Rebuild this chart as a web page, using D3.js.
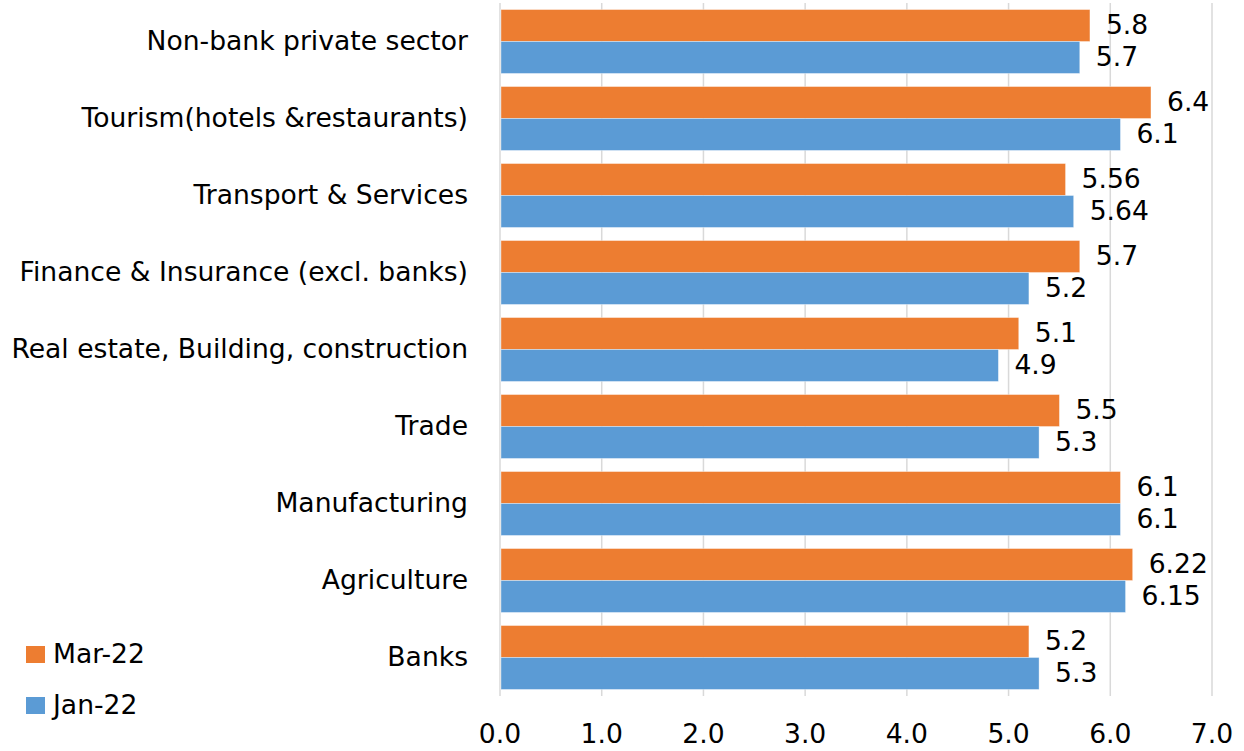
<!DOCTYPE html>
<html>
<head>
<meta charset="utf-8">
<script src="https://cdn.jsdelivr.net/npm/d3@7"></script>
<style>
  html, body { margin: 0; padding: 0; background: #fff; }
  svg { display: block; font-family: "DejaVu Sans", sans-serif; }
</style>
</head>
<body>
<svg id="chart"></svg>
<script>
// Data
const categories = [
  "Non-bank private sector",
  "Tourism(hotels &restaurants)",
  "Transport & Services",
  "Finance & Insurance (excl. banks)",
  "Real estate, Building, construction",
  "Trade",
  "Manufacturing",
  "Agriculture",
  "Banks"
];
const mar22 = [5.8, 6.4, 5.56, 5.7, 5.1, 5.5, 6.1, 6.22, 5.2];
const jan22 = [5.7, 6.1, 5.64, 5.2, 4.9, 5.3, 6.1, 6.15, 5.3];
const seriesNames = ["Mar-22", "Jan-22"];
const xTicks = [0, 1, 2, 3, 4, 5, 6, 7];

const W = 1244, H = 751;
const plot = { left: 500, right: 1212, top: 3, bottom: 696 };
const fontSize = 26.6;
const colors = { "Mar-22": "#ED7D31", "Jan-22": "#5B9BD5" };

const svg = d3.select("#chart").attr("width", W).attr("height", H);

const x = d3.scaleLinear().domain([0, 7]).range([plot.left, plot.right]);
const y = d3.scaleBand().domain(categories).range([plot.top, plot.bottom]).paddingInner(0.17).paddingOuter(0.085);
const ySub = d3.scaleBand().domain(seriesNames).range([0, y.bandwidth()]);

const rows = categories.map((c, i) => ({ cat: c, values: [
  { s: "Mar-22", v: mar22[i] },
  { s: "Jan-22", v: jan22[i] }
]}));

// gridlines
svg.append("g").selectAll("line").data(xTicks).join("line")
  .attr("x1", d => x(d)).attr("x2", d => x(d))
  .attr("y1", plot.top).attr("y2", plot.bottom)
  .attr("stroke", "#d9d9d9").attr("stroke-width", 1.5);

// bars
const gRow = svg.append("g").selectAll("g").data(rows).join("g")
  .attr("transform", d => `translate(0,${y(d.cat)})`);

gRow.selectAll("rect").data(d => d.values).join("rect")
  .attr("x", x(0) + 1)
  .attr("y", d => ySub(d.s))
  .attr("width", d => x(d.v) - x(0) - 1)
  .attr("height", ySub.bandwidth())
  .attr("fill", d => colors[d.s])
  .attr("stroke", "rgba(255,255,255,0.45)")
  .attr("stroke-width", 0.8);

gRow.selectAll("text.val").data(d => d.values).join("text")
  .attr("class", "val")
  .attr("x", d => x(d.v) + 16)
  .attr("y", d => ySub(d.s) + ySub.bandwidth() / 2)
  .attr("dy", "0.33em")
  .attr("font-size", fontSize)
  .attr("fill", "#000")
  .text(d => String(d.v));

// category labels
svg.append("g").selectAll("text").data(categories).join("text")
  .attr("x", 468)
  .attr("y", d => y(d) + y.bandwidth() / 2)
  .attr("dy", "0.33em")
  .attr("text-anchor", "end")
  .attr("font-size", fontSize)
  .attr("fill", "#000")
  .text(d => d);

// x tick labels
svg.append("g").selectAll("text").data(xTicks).join("text")
  .attr("x", d => x(d))
  .attr("y", 734)
  .attr("dy", "0.35em")
  .attr("text-anchor", "middle")
  .attr("font-size", fontSize)
  .attr("fill", "#000")
  .text(d => d3.format(".1f")(d));

// legend
const legend = svg.append("g").selectAll("g").data(seriesNames).join("g")
  .attr("transform", (d, i) => `translate(26,${654 + i * 51})`);
legend.append("rect")
  .attr("x", 0).attr("y", -8).attr("width", 19).attr("height", 17)
  .attr("fill", d => colors[d]);
legend.append("text")
  .attr("x", 27).attr("y", 0).attr("dy", "0.35em")
  .attr("font-size", fontSize).attr("fill", "#000")
  .text(d => d);
</script>
</body>
</html>
